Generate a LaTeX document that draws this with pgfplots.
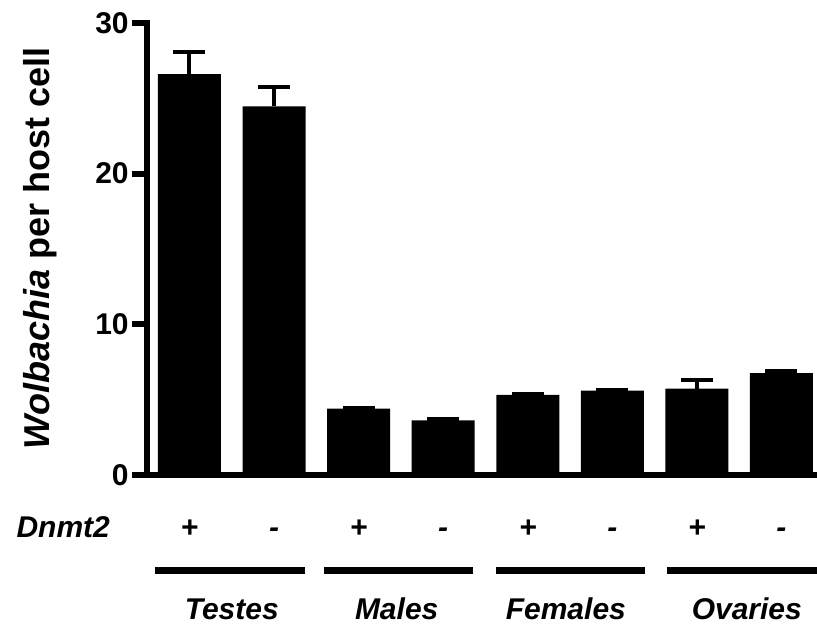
\documentclass[border=0pt]{standalone}
\usepackage{pgfplots}
\pgfplotsset{compat=1.18}
\usepackage{fontspec}
\setmainfont{Liberation Sans}
\pgfplotstableread{
x y e
0 26.61 1.46
1 24.47 1.27
2 4.40 0.07
3 3.63 0.08
4 5.31 0.05
5 5.60 0.07
6 5.73 0.56
7 6.77 0.13
}\bardata
\tikzset{lab/.style={anchor=base, font=\fontsize{30}{30}\selectfont\bfseries\itshape}}
\begin{document}
\begin{tikzpicture}
\useasboundingbox (-189.5pt,-152pt) rectangle (627.5pt,475pt);
\begin{axis}[
  at={(0pt,0pt)}, anchor=origin,
  scale only axis, width=669.8pt, height=452pt,
  xmin=-0.5, xmax=7.42, ymin=0, ymax=30,
  axis x line=bottom, axis y line=left,
  axis line style={-, line width=6.5pt, line cap=rect, black},
  xtick=\empty,
  ytick={0,10,20,30},
  tick align=outside,
  major tick length=15pt,
  ytick style={line width=6pt, black},
  yticklabel style={font=\fontsize{30}{30}\selectfont\bfseries},
  /pgf/number format/assume math mode=true,
  ylabel={\textit{Wolbachia} per host cell},
  ylabel style={font=\fontsize{36}{36}\selectfont\bfseries, at={(rel axis cs:-0.1452,0.501)}, anchor=base},
  clip=false,
  ybar, bar width=0.745,
]
\addplot[fill=black, draw=none,
  error bars/.cd, y dir=plus, y explicit,
  error bar style={line width=4pt, black},
  error mark options={rotate=90, line width=4pt, mark size=16pt, black}]
  table[x=x, y=y, y error=e] {\bardata};

\node[lab, anchor=base west] at (axis cs:-2.087,-4.18) {Dnmt2};
\node[lab] at (axis cs:0,-4.18) {+};
\node[lab] at (axis cs:1,-4.18) {-};
\node[lab] at (axis cs:2,-4.18) {+};
\node[lab] at (axis cs:3,-4.18) {-};
\node[lab] at (axis cs:4,-4.18) {+};
\node[lab] at (axis cs:5,-4.18) {-};
\node[lab] at (axis cs:6,-4.18) {+};
\node[lab] at (axis cs:7,-4.18) {-};
\draw[line width=7pt] (axis cs:-0.408,-6.31) -- (axis cs:1.366,-6.31);
\draw[line width=7pt] (axis cs:1.590,-6.31) -- (axis cs:3.352,-6.31);
\draw[line width=7pt] (axis cs:3.624,-6.31) -- (axis cs:5.386,-6.31);
\draw[line width=7pt] (axis cs:5.646,-6.31) -- (axis cs:7.42,-6.31);
\node[lab] at (axis cs:0.5,-9.62) {Testes};
\node[lab] at (axis cs:2.45,-9.62) {Males};
\node[lab] at (axis cs:4.45,-9.62) {Females};
\node[lab] at (axis cs:6.59,-9.62) {Ovaries};
\end{axis}
\end{tikzpicture}
\end{document}
